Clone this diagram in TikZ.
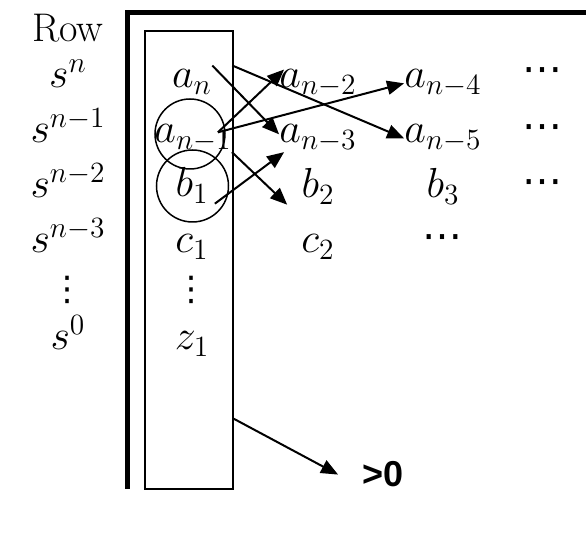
\RequirePackage{fix-cm}
\documentclass[tikz,border=0pt]{standalone}
\usepackage{fontspec}
\usepackage{tikz}
\usetikzlibrary{arrows.meta,positioning}
\newfontfamily\gtfont{Liberation Sans}
\newfontfamily\dotfont{DejaVu Sans}

\begin{document}
\begin{tikzpicture}[x=0.5pt,y=-0.5pt,
  ent/.style={inner sep=0pt,anchor=base,font=\fontsize{21}{25}\selectfont},
  dts/.style={inner sep=0pt,anchor=center,font=\dotfont\fontsize{17}{20}\selectfont},
  hdts/.style={dts,font=\dotfont\fontsize{20}{24}\selectfont},
  colbox/.style={draw,line width=0.75pt,inner sep=0pt,minimum width=44pt,minimum height=229pt},
  ring/.style={draw,circle,line width=0.75pt,inner sep=0pt},
  arr/.style={-{Triangle[length=8.5pt,width=7pt]},line width=1pt}
]
\useasboundingbox (0,0) rectangle (586,544);
\draw[line width=2.5pt] (127.5,489) |- (586,12.5);
\node[colbox] (col) at (189,260) {};
% row labels
\node[ent,font=\fontsize{20}{24}\selectfont] (row) at (68,42) {Row};
\node[ent] (sn) at (68,88) {$s^{n}$};
\node[ent] (sn1) at (68,143) {$s^{n-1}$};
\node[ent] (sn2) at (68,198) {$s^{n-2}$};
\node[ent] (sn3) at (68,253) {$s^{n-3}$};
\node[dts] (svd) at (68,290) {⋮};
\node[ent] (s0) at (68,350) {$s^{0}$};
% first column
\node[ent] (an) at (192,88) {$a_{n}$};
\node[ent] (an1) at (193,143) {$a_{n-1}$};
\node[ent] (b1) at (192,197) {$b_{1}$};
\node[ent] (c1) at (192,253) {$c_{1}$};
\node[dts] (cvd) at (192,290) {⋮};
\node[ent] (z1) at (192,350) {$z_{1}$};
% other columns
\node[ent] (an2) at (318,88) {$a_{n-2}$};
\node[ent] (an3) at (318,143) {$a_{n-3}$};
\node[ent] (b2) at (318,198) {$b_{2}$};
\node[ent] (c2) at (318,253) {$c_{2}$};
\node[ent] (an4) at (443,88) {$a_{n-4}$};
\node[ent] (an5) at (443,143) {$a_{n-5}$};
\node[ent] (b3) at (443,198) {$b_{3}$};
\node[hdts] (cd3) at (443,242) {⋯};
\node[hdts] (cd1) at (543,75) {⋯};
\node[hdts] (cd2) at (543,132) {⋯};
\node[hdts] (cd4) at (543,187) {⋯};
\node[ent,font=\gtfont\bfseries\fontsize{18}{21}\selectfont] (gt) at (383,487) {>0};
% circles
\node[ring,minimum size=35pt] (ring1) at (190,134) {};
\node[ring,minimum size=36pt] (ring2) at (192.5,186) {};
% arrows
\draw[arr] ([yshift=2pt]an.north east) -- ([yshift=2pt]an3.west);
\draw[arr] ([xshift=10pt,yshift=2pt]an.north east) -- (an5.west);
\draw[arr] ([xshift=-7pt,yshift=3pt]an1.east) -- ([xshift=2.5pt]an2.north west);
\draw[arr] ([xshift=-7pt,yshift=3pt]an1.east) -- (an4.west);
\draw[arr] (an1.south east) -- ([xshift=-7pt]b2.south west);
\draw[arr] ([xshift=3pt]b1.south east) -- ([xshift=2.5pt]an3.south west);
\draw[arr] ([yshift=35.5pt]col.south east) -- ([xshift=-12pt]gt.west);
\end{tikzpicture}
\end{document}
